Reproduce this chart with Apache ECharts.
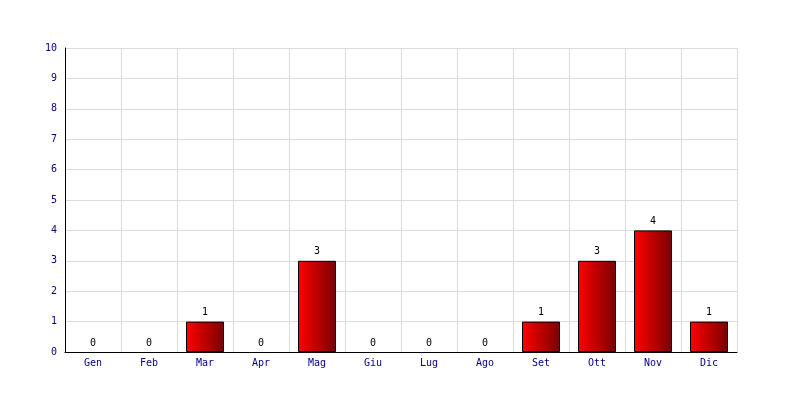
<!DOCTYPE html>
<html><head><meta charset="utf-8">
<script src="https://cdn.jsdelivr.net/npm/echarts@6/dist/echarts.min.js"></script>
<style>html,body{margin:0;padding:0;background:#fff}#c{width:800px;height:400px}</style>
</head><body><div id="c"></div>
<script>
const categories = ["Gen","Feb","Mar","Apr","Mag","Giu","Lug","Ago","Set","Ott","Nov","Dic"];
const values = [0,0,1,0,3,0,0,0,1,3,4,1];
const yMin = 0, yMax = 10, yStep = 1;

const chart = echarts.init(document.getElementById('c'), null, {renderer:'canvas'});
const font = '"DejaVu Sans Mono", monospace';
chart.setOption({
  animation: false,
  backgroundColor: '#ffffff',
  grid: {left: 65, right: 63, top: 48, bottom: 48},
  xAxis: {
    type: 'category', data: categories, boundaryGap: true,
    axisLine: {lineStyle: {color: '#000', width: 1}},
    axisTick: {show: false},
    axisLabel: {color: '#000080', fontFamily: font, fontSize: 10, margin: 6},
    splitLine: {show: true, lineStyle: {color: '#dcdcdc', width: 1}}
  },
  yAxis: {
    type: 'value', min: yMin, max: yMax, interval: yStep,
    axisLine: {show: true, lineStyle: {color: '#000', width: 1}},
    axisTick: {show: false},
    axisLabel: {color: '#000080', fontFamily: font, fontSize: 10, margin: 8},
    splitLine: {show: true, lineStyle: {color: '#dcdcdc', width: 1}}
  },
  series: [{
    type: 'bar', barWidth: 38,
    data: values.map(v => v === 0 ? {value: v, itemStyle: {borderWidth: 0}} : v),
    itemStyle: {
      borderColor: '#000', borderWidth: 1,
      color: new echarts.graphic.LinearGradient(0,0,1,0,[{offset:0,color:'#ff0000'},{offset:1,color:'#7a0000'}])
    },
    label: {show: true, position: 'top', distance: 4, color: '#000', fontFamily: font, fontSize: 10}
  }]
});
</script></body></html>
